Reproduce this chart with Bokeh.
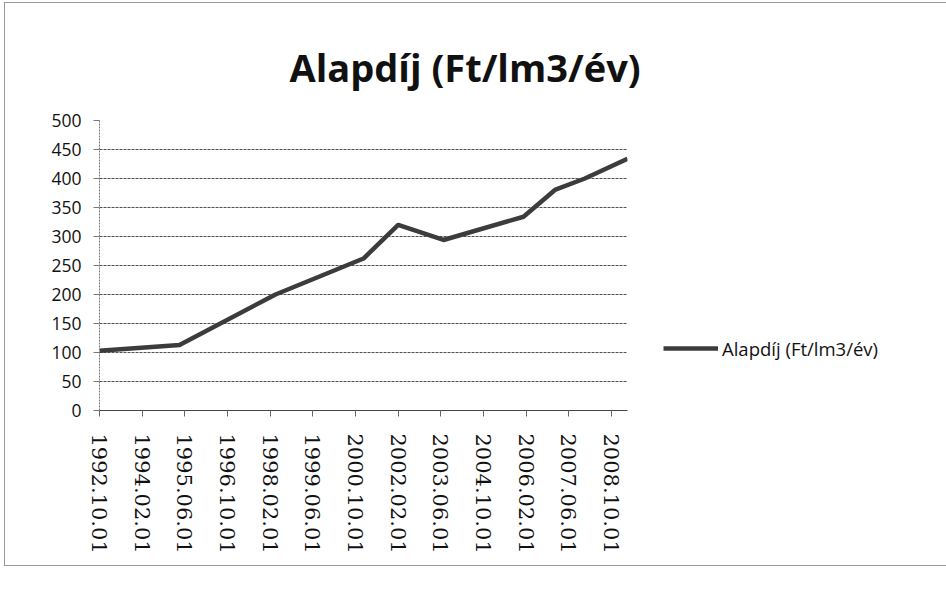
from bokeh.plotting import figure
from bokeh.models import Range1d, FixedTicker, Legend, LegendItem, Title
from bokeh.embed import file_html
from bokeh.resources import INLINE

# ---- data ----
dates = ["1992.10.01", "1995.04.01", "1998.04.01", "2001.01.01", "2002.02.01",
         "2003.07.01", "2006.01.01", "2007.01.01", "2007.12.01", "2009.04.01"]
values = [103, 113, 200, 262, 320, 294, 334, 381, 400, 434]
tick_labels = ["1992.10.01", "1994.02.01", "1995.06.01", "1996.10.01", "1998.02.01",
               "1999.06.01", "2000.10.01", "2002.02.01", "2003.06.01", "2004.10.01",
               "2006.02.01", "2007.06.01", "2008.10.01"]
y_ticks = [0, 50, 100, 150, 200, 250, 300, 350, 400, 450, 500]
series_name = "Alapdíj (Ft/lm3/év)"
title_text = "Alapdíj (Ft/lm3/év)"


def month_index(s):
    y, m, _ = s.split(".")
    return (int(y) - 1992) * 12 + (int(m) - 10)


xs = [month_index(d) for d in dates]
tick_pos = [month_index(t) for t in tick_labels]

p = figure(frame_width=528, frame_height=290, output_backend="svg", toolbar_location=None,
           x_range=Range1d(0, max(xs)), y_range=Range1d(0, 500),
           min_border_left=94, min_border_right=0,
           min_border_top=117, min_border_bottom=155)
p.styles = {"border-left": "1px solid #9a9a9a", "border-top": "1px solid #9a9a9a",
            "border-bottom": "1px solid #9a9a9a",
            "margin-left": "4px", "margin-top": "2px"}
p.outline_line_color = None
p.background_fill_color = "white"
p.border_fill_color = "white"

t = Title(text=title_text, align="left", offset=190, standoff=56,
          text_font="Open Sans", text_font_size="38px", text_font_style="bold",
          text_color="#111111")
p.add_layout(t, "above")

r = p.line(xs, values, line_color="#3c3c3c", line_width=4.5, line_join="round")

# axes
p.xaxis.ticker = FixedTicker(ticks=tick_pos)
p.xaxis.major_label_overrides = {pos: lab for pos, lab in zip(tick_pos, tick_labels)}
p.xaxis.major_label_orientation = "vertical"
p.xaxis.major_label_text_font = "DejaVu Serif"
p.xaxis.major_label_text_font_size = "21px"
p.xaxis.major_label_text_color = "#111111"
p.xaxis.major_label_standoff = 17
p.xaxis.major_tick_out = 6
p.xaxis.major_tick_in = 0
p.xaxis.minor_tick_line_color = None
p.xaxis.axis_line_color = "#444444"
p.xaxis.major_tick_line_color = "#666666"

p.yaxis.ticker = FixedTicker(ticks=y_ticks)
p.yaxis.major_label_text_font = "Open Sans"
p.yaxis.major_label_text_font_size = "17.5px"
p.yaxis.major_label_text_color = "#111111"
p.yaxis.major_label_standoff = 12
p.yaxis.major_tick_out = 6
p.yaxis.major_tick_in = 0
p.yaxis.minor_tick_line_color = None
p.yaxis.axis_line_color = "#777777"
p.yaxis.axis_line_dash = "2 1"
p.yaxis.major_tick_line_color = "#777777"

p.xgrid.grid_line_color = None
p.ygrid.grid_line_color = "#505050"
p.ygrid.grid_line_dash = "3 1"
p.ygrid.grid_line_width = 1

legend = Legend(items=[LegendItem(label=series_name, renderers=[r])],
                location="bottom_left", orientation="vertical",
                glyph_width=55, glyph_height=52, label_height=52,
                label_standoff=4, padding=0, margin=36, spacing=0,
                border_line_color=None, background_fill_alpha=0,
                label_text_font="Open Sans", label_text_font_size="18.5px",
                label_text_color="#111111")
p.add_layout(legend, "right")

open("out.html", "w").write(file_html(p, INLINE))
